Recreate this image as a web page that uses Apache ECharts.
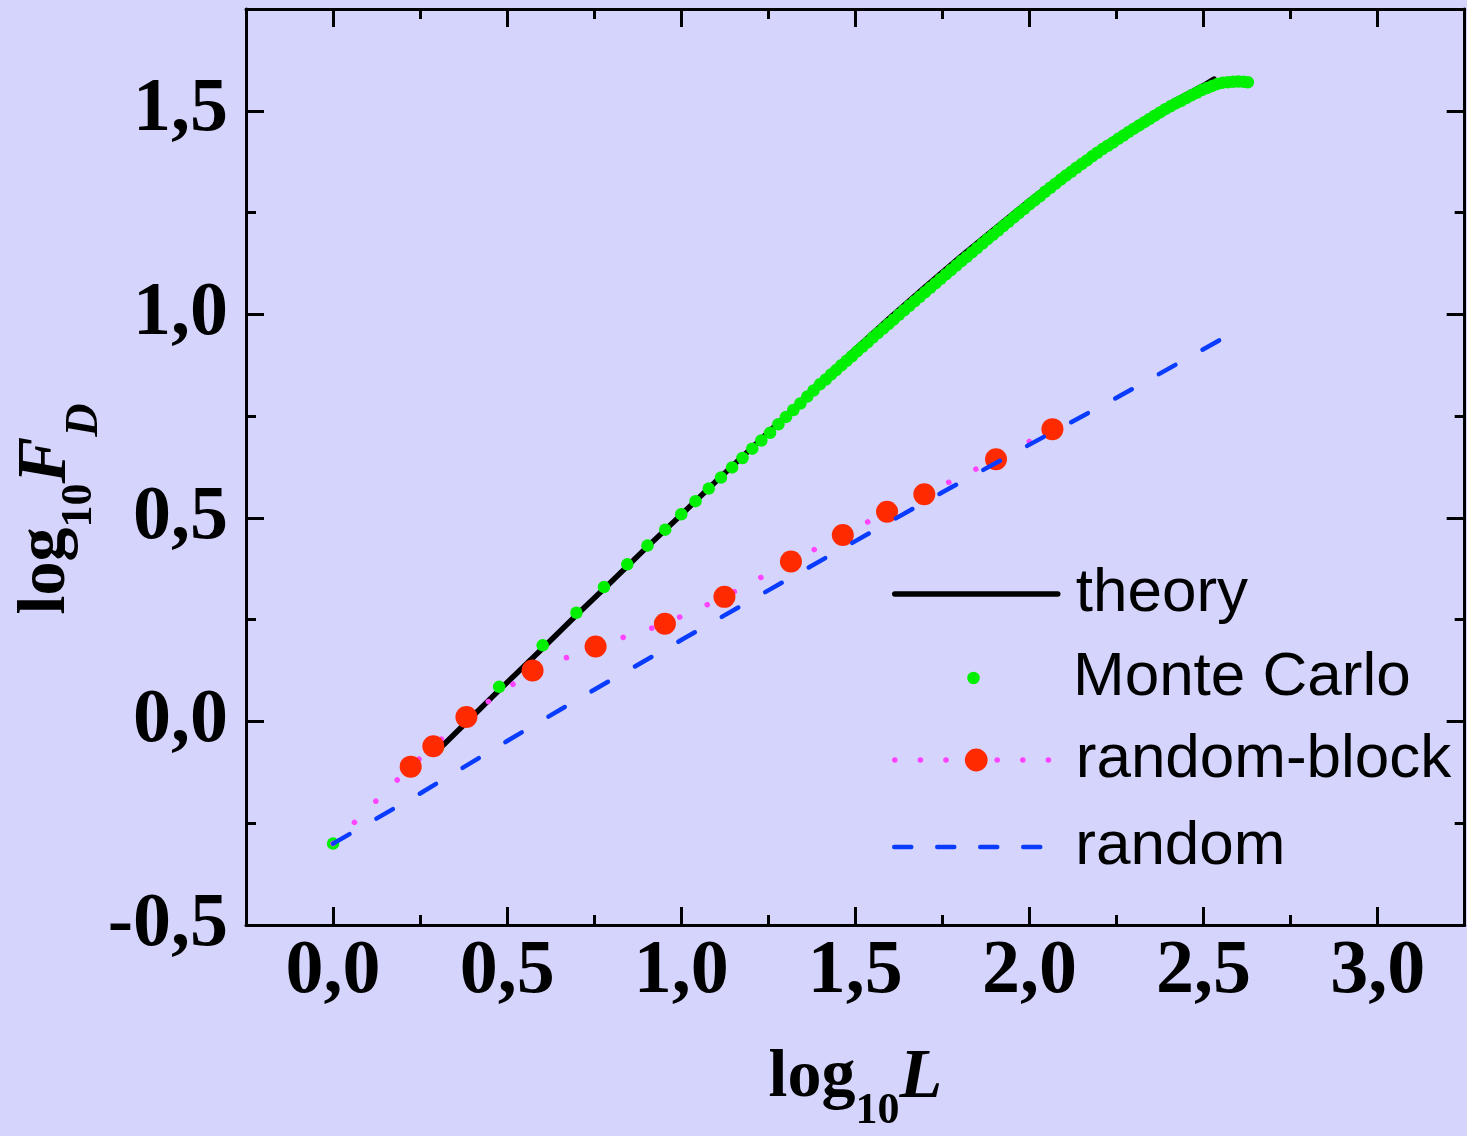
<!DOCTYPE html>
<html><head><meta charset="utf-8">
<script src="https://cdn.jsdelivr.net/npm/echarts@6/dist/echarts.min.js"></script>
<style>html,body{margin:0;padding:0;background:#d4d4fd}#c{width:1467px;height:1136px}</style>
</head><body><div id="c"></div>
<script>
// ---- tick values ----
const xMajorTicks = [0, 0.5, 1, 1.5, 2, 2.5, 3];
const xMinorTicks = [0.25, 0.75, 1.25, 1.75, 2.25, 2.75];
const yMajorTicks = [-0.5, 0, 0.5, 1, 1.5];
const yMinorTicks = [-0.25, 0.25, 0.75, 1.25];

// ---- theory (black line) ----
const theoryX = [0.30, 0.40, 0.477, 0.55, 0.602, 0.70, 0.80, 0.90, 1.0, 1.1, 1.2, 1.3, 1.4, 1.5, 1.6, 1.7, 1.8, 1.9, 2.0, 2.1, 2.2, 2.3, 2.4, 2.5, 2.53];
const theoryY = [-0.072, 0.012, 0.077, 0.137, 0.180, 0.262, 0.344, 0.427, 0.508, 0.590, 0.670, 0.750, 0.834, 0.914, 0.992, 1.067, 1.140, 1.210, 1.279, 1.345, 1.407, 1.463, 1.516, 1.562, 1.578];

// ---- Monte Carlo (green dots) ----
const mcX = [0, 0.301, 0.477, 0.602, 0.699, 0.778, 0.845, 0.903, 0.954, 1.0, 1.041, 1.079, 1.114, 1.146, 1.176, 1.204, 1.230, 1.255, 1.279, 1.301, 1.322, 1.342, 1.362, 1.380, 1.398,
  1.415,1.43,1.445,1.46,1.475,1.49,1.505,1.52,1.535,1.55,1.565,1.58,1.595,1.61,1.625,1.64,1.655,1.67,1.685,1.7,1.715,1.73,1.745,1.76,1.775,1.79,1.805,1.82,1.835,1.85,1.865,1.88,1.895,1.91,1.925,1.94,1.955,1.97,1.985,2.0,2.015,2.03,2.045,2.06,2.075,2.09,2.105,2.12,2.135,2.15,2.165,2.18,2.195,2.21,2.225,2.24,2.255,2.27,2.285,2.3,2.315,2.33,2.345,2.36,2.375,2.39,2.405,2.42,2.435,2.45,2.465,2.48,2.495,2.51,2.525,2.54,2.555,2.57,2.585,2.6,2.615,2.627];
const mcY = [-0.30, -0.065, 0.085, 0.187, 0.267, 0.330, 0.386, 0.432, 0.471, 0.509, 0.541, 0.572, 0.599, 0.624, 0.647, 0.670, 0.690, 0.709, 0.730, 0.748, 0.765, 0.781, 0.798, 0.813, 0.828,
  0.840,0.852,0.863,0.875,0.886,0.897,0.909,0.920,0.931,0.943,
  0.954,0.965,0.976,0.987,0.999,1.010,1.021,1.032,1.043,1.054,
  1.065,1.076,1.087,1.098,1.109,1.120,1.131,1.141,1.152,1.163,
  1.174,1.185,1.195,1.206,1.217,1.227,1.238,1.249,1.259,1.270,
  1.280,1.290,1.301,1.311,1.321,1.331,1.341,1.350,1.360,1.369,
  1.378,1.388,1.397,1.406,1.414,1.422,1.431,1.439,1.448,1.456,
  1.464,1.472,1.480,1.488,1.496,1.504,1.511,1.518,1.524,1.531,
  1.538,1.544,1.551,1.556,1.561,1.566,1.569,1.570,1.571,1.572,
  1.571,1.570];

// ---- random-block (red dots on dotted magenta line) ----
const rbX = [0.223, 0.288, 0.383, 0.573, 0.754, 0.953, 1.124, 1.315, 1.464, 1.591, 1.698, 1.904, 2.066];
const rbY = [-0.111, -0.061, 0.011, 0.125, 0.184, 0.240, 0.306, 0.393, 0.458, 0.515, 0.558, 0.644, 0.718];
const rbLineStart = [0, -0.30];
const rbLineEnd = [2.13, 0.752];

// ---- random (blue dashed) ----
const rndX = [0, 0.25, 0.5, 0.75, 1.0, 1.25, 1.5, 1.75, 2.0, 2.25, 2.545];
const rndY = [-0.30, -0.177, -0.048, 0.078, 0.200, 0.322, 0.443, 0.563, 0.680, 0.795, 0.936];

const zip = (a, b) => a.map((v, i) => [v, b[i]]);
const fmt = v => v.toFixed(1).replace('.', ',');
const serif = '"Liberation Serif", "Times New Roman", serif';
const sans = '"Liberation Sans", Arial, sans-serif';

const rbData = [{value: rbLineStart, symbol: 'none'}]
  .concat(zip(rbX, rbY).map(p => ({value: p})))
  .concat([{value: rbLineEnd, symbol: 'none'}]);

const lineBlack = {color: '#000', width: 3};
const tickLabelStyle = {fontSize: 76, fontFamily: serif, fontWeight: 'bold', color: '#000'};

function mkX(pos, ticks, len, isMain, showLabel, extra) {
  return Object.assign({
    type: 'value', min: -0.25, max: 3.25, position: pos,
    axisLine: {show: isMain, onZero: false, lineStyle: lineBlack},
    axisTick: {show: true, inside: true, length: len, customValues: ticks, lineStyle: lineBlack},
    axisLabel: showLabel ? Object.assign({show: true, customValues: ticks, formatter: fmt, margin: 9}, tickLabelStyle) : {show: false},
    splitLine: {show: false}, minorTick: {show: false}
  }, extra || {});
}
function mkY(pos, ticks, len, isMain, showLabel, extra) {
  return Object.assign({
    type: 'value', min: -0.5, max: 1.75, position: pos,
    axisLine: {show: isMain, onZero: false, lineStyle: lineBlack},
    axisTick: {show: true, inside: true, length: len, customValues: ticks, lineStyle: lineBlack},
    axisLabel: showLabel ? Object.assign({show: true, customValues: ticks, formatter: fmt, margin: 18}, tickLabelStyle) : {show: false},
    splitLine: {show: false}, minorTick: {show: false}
  }, extra || {});
}

const titleRich = {
  a: {fontSize: 68, fontFamily: serif, fontWeight: 'bold', color: '#000', lineHeight: 68, verticalAlign: 'top'},
  b: {fontSize: 44, fontFamily: serif, fontWeight: 'bold', color: '#000', lineHeight: 44, padding: [46, 0, 0, 0], verticalAlign: 'top'},
  c: {fontSize: 70, fontFamily: serif, fontWeight: 'bold', fontStyle: 'italic', color: '#000', lineHeight: 70, verticalAlign: 'top'},
  d: {fontSize: 46, fontFamily: serif, fontWeight: 'bold', fontStyle: 'italic', color: '#000', lineHeight: 46, padding: [50, 0, 0, 0], verticalAlign: 'top'}
};

const hiddenSym = {color: 'rgba(0,0,0,0)', opacity: 0, borderWidth: 0};

function mkLegend(name, top, itemHeight, extra) {
  return Object.assign({
    data: [name], left: 892, top: top, padding: 0, orient: 'vertical',
    itemWidth: 163, itemHeight: itemHeight, selectedMode: false,
    textStyle: {fontSize: 62, fontFamily: sans, color: '#000', padding: [0, 0, 0, 13]}
  }, extra || {});
}

// Monte Carlo legend icon: a centred dot inside a box as wide as the other legend icons
const mcIcon = 'path://M0 0L0 0M163 12.5L163 12.5M75.25 6.25A6.25 6.25 0 1 0 87.75 6.25A6.25 6.25 0 1 0 75.25 6.25Z';

const option = {
  backgroundColor: '#d4d4fd',
  animation: false,
  grid: {left: 246, right: 2.3, top: 9, bottom: 211, containLabel: false, outerBoundsMode: 'none'},
  xAxis: [
    mkX('bottom', xMajorTicks, 18, true, true, {
      name: '{a|log}{b|10}{c|L}', nameLocation: 'middle', nameGap: 119, nameMoveOverlap: false,
      nameTextStyle: {rich: titleRich}
    }),
    mkX('bottom', xMinorTicks, 10, false, false),
    mkX('top', xMajorTicks, 18, true, false),
    mkX('top', xMinorTicks, 10, false, false)
  ],
  yAxis: [
    mkY('left', yMajorTicks, 18, true, true, {
      name: '{a|log}{b|10}{c|F}{d|D}', nameLocation: 'middle', nameGap: 164, nameMoveOverlap: false,
      nameTextStyle: {rich: titleRich, padding: [0, 84, 0, 0]}
    }),
    mkY('left', yMinorTicks, 10, false, false),
    mkY('right', yMajorTicks, 18, true, false),
    mkY('right', yMinorTicks, 10, false, false)
  ],
  legend: [
    mkLegend('theory', 563, 14, {
      itemStyle: hiddenSym,
      lineStyle: {color: '#000', width: 5.5, type: 'solid', cap: 'round'}
    }),
    mkLegend('Monte Carlo', 647, 12.5, {
      data: [{name: 'Monte Carlo', icon: mcIcon}],
      itemStyle: {color: '#00f000'}
    }),
    mkLegend('random-block', 729, 28.5, {
      itemStyle: {color: '#ff2a00'},
      lineStyle: {type: [0.1, 25.5], width: 5.5, cap: 'round', color: '#ff44ff'}
    }),
    mkLegend('random', 816, 14, {
      itemStyle: hiddenSym,
      lineStyle: {type: [17, 26], width: 4.5, cap: 'round', color: '#0a3cff'}
    })
  ],
  series: [
    {name: 'theory', type: 'line', xAxisIndex: 0, yAxisIndex: 0, data: zip(theoryX, theoryY),
     symbol: 'none', z: 2, lineStyle: {color: '#000', width: 5.5, cap: 'round', join: 'round'}, itemStyle: {color: '#000'}},
    {name: 'Monte Carlo', type: 'scatter', xAxisIndex: 0, yAxisIndex: 0, data: zip(mcX, mcY),
     symbol: 'circle', symbolSize: 12.5, z: 3, itemStyle: {color: '#00f000', opacity: 1}},
    {name: 'random-block', type: 'line', xAxisIndex: 0, yAxisIndex: 0, data: rbData,
     symbol: 'circle', symbolSize: 22, showSymbol: true, showAllSymbol: true, z: 4,
     itemStyle: {color: '#ff2a00'},
     lineStyle: {color: '#ff44ff', width: 5.5, type: [0.1, 30], cap: 'round'}},
    {name: 'random', type: 'line', xAxisIndex: 0, yAxisIndex: 0, data: zip(rndX, rndY),
     symbol: 'none', z: 5, itemStyle: {color: '#0a3cff'},
     lineStyle: {color: '#0a3cff', width: 4.5, type: [19, 31], cap: 'round'}}
  ]
};

const chart = echarts.init(document.getElementById('c'), null, {renderer: 'canvas'});
chart.setOption(option);
</script>
</body></html>
